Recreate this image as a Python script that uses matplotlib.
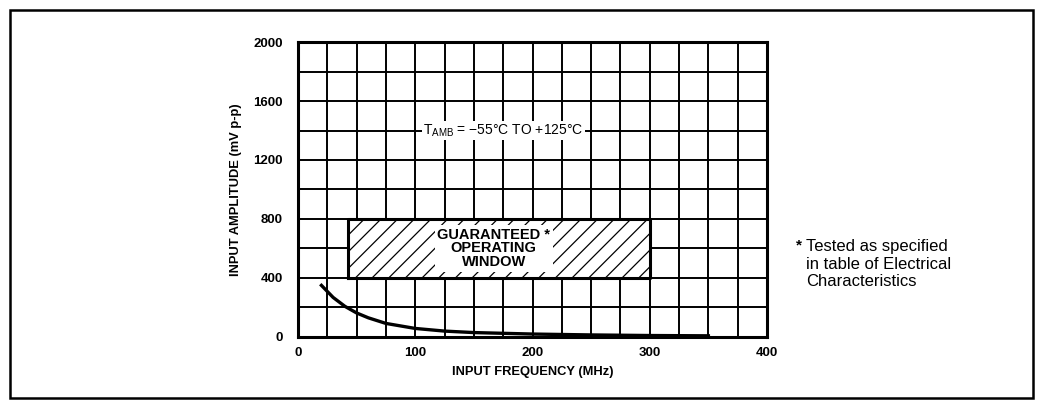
import numpy as np
import matplotlib.pyplot as plt
from matplotlib.patches import Rectangle

# curve (MHz, mV p-p)
curve_freq = [20, 30, 40, 50, 60, 75, 100, 125, 150, 200, 250, 300, 350]
curve_amp = [350, 268, 208, 163, 130, 92, 58, 40, 30, 20, 14, 10, 8]

# guaranteed operating window
window_freq = [43, 300]
window_amp = [400, 800]

x_ticks = [0, 100, 200, 300, 400]
y_ticks = [0, 400, 800, 1200, 1600, 2000]

plt.rcParams['font.family'] = ['Liberation Sans', 'DejaVu Sans']
plt.rcParams['hatch.linewidth'] = 0.9

fig = plt.figure(figsize=(10.43, 4.07), dpi=100)
ax = fig.add_axes([0.2857, 0.172, 0.4497, 0.7248])

ax.set_xlim(0, 400)
ax.set_ylim(0, 2000)
ax.set_xticks(np.arange(0, 401, 25), minor=True)
ax.set_yticks(np.arange(0, 2001, 200), minor=True)
ax.set_xticks(x_ticks)
ax.set_yticks(y_ticks)
ax.set_xticklabels([str(v) for v in x_ticks], fontsize=9.5, fontweight='bold')
ax.set_yticklabels([str(v) for v in y_ticks], fontsize=9.5, fontweight='bold')
ax.tick_params(which='both', length=0)
ax.tick_params(axis='x', pad=7)
ax.tick_params(axis='y', pad=11)
ax.grid(which='both', color='black', linewidth=1.4)
ax.set_axisbelow(True)
for s in ax.spines.values():
    s.set_linewidth(2.2)

# operating window: white box with hatching
x0, x1 = window_freq
y0, y1 = window_amp
ax.add_patch(Rectangle((x0, y0), x1 - x0, y1 - y0, facecolor='white',
                       edgecolor='none', zorder=3))
ax.add_patch(Rectangle((x0, y0), x1 - x0, y1 - y0, facecolor='none',
                       edgecolor='black', hatch='//', linewidth=0, zorder=3))
ax.plot([x0, x0, x1, x1, x0], [y0, y1, y1, y0, y0], color='black',
        linewidth=2.2, zorder=4)
ax.text(167, 600, "GUARANTEED *\nOPERATING\nWINDOW",
        ha='center', va='center', fontsize=10.5, fontweight='bold',
        linespacing=0.95, zorder=5,
        bbox=dict(facecolor='white', edgecolor='none', pad=2))

ax.text(175, 1400, r"T$_{\mathregular{AMB}}$ = −55°C TO +125°C",
        ha='center', va='center', fontsize=10, zorder=5,
        bbox=dict(facecolor='white', edgecolor='none', pad=1))

ax.plot(curve_freq, curve_amp, color='black', linewidth=2.4, zorder=6)

ax.set_xlabel("INPUT FREQUENCY (MHz)", fontsize=9.3, fontweight='bold', labelpad=5)
ax.set_ylabel("INPUT AMPLITUDE (mV p-p)", fontsize=9.3, fontweight='bold', labelpad=8)

fig.text(796 / 1043, 1 - 238 / 407, "*", fontsize=11, fontweight='bold', va='top')
fig.text(806 / 1043, 1 - 239 / 407,
         "Tested as specified\nin table of Electrical\nCharacteristics",
         fontsize=12, va='top', linespacing=1.22)

# outer frame
fig.add_artist(Rectangle((10 / 1043, 1 - 398 / 407), 1023 / 1043, 388 / 407,
                         transform=fig.transFigure, facecolor='none',
                         edgecolor='black', linewidth=1.8))

fig.savefig("out.png", dpi=100)
